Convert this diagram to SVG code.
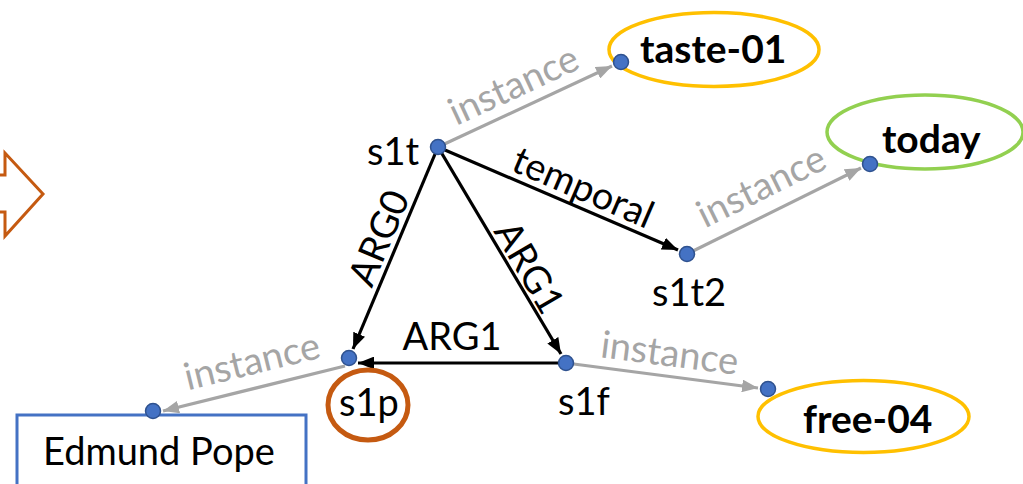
<svg xmlns="http://www.w3.org/2000/svg" width="1023" height="484" viewBox="0 0 1023 484">
  <style>
    text { font-family: Lato, "Open Sans", "Liberation Sans", sans-serif; fill: #000; }
    .lbl { font-size: 38px; }
    .concept { font-size: 39px; font-weight: bold; }
    .rel { font-size: 38px; text-anchor: middle; }
    .inst { font-size: 38px; text-anchor: middle; fill: #A5A5A5; }
    .edge { stroke: #000; stroke-width: 3.2; fill: none; marker-end: url(#arrowBlack); }
    .iedge { stroke: #A5A5A5; stroke-width: 3.2; fill: none; marker-end: url(#arrowGray); }
    .dot { fill: #4472C4; stroke: #2F528F; stroke-width: 1.5; }
  </style>
  <defs>
    <marker id="arrowBlack" viewBox="0 0 10 8" refX="10" refY="4" markerWidth="5" markerHeight="4" orient="auto" markerUnits="strokeWidth">
      <path d="M0,0 L10,4 L0,8 Z" fill="#000"/>
    </marker>
    <marker id="arrowGray" viewBox="0 0 10 8" refX="10" refY="4" markerWidth="5" markerHeight="4" orient="auto" markerUnits="strokeWidth">
      <path d="M0,0 L10,4 L0,8 Z" fill="#A5A5A5"/>
    </marker>
  </defs>

  <rect width="1023" height="484" fill="#fff"/>

  <!-- block arrow at the left margin -->
  <polygon points="-10,175 5,175 5,153 43,194 5,236 5,212 -10,212" fill="#fff" stroke="#C55A11" stroke-width="3" stroke-linejoin="miter"/>

  <!-- concept shapes -->
  <g id="taste-01">
    <ellipse cx="714" cy="49.5" rx="105" ry="37" fill="none" stroke="#FFC000" stroke-width="3.5"/>
    <text class="concept" x="640" y="63">taste-01</text>
  </g>
  <g id="today">
    <ellipse cx="925" cy="132" rx="98" ry="37" fill="none" stroke="#92D050" stroke-width="3.5"/>
    <text class="concept" x="882" y="153">today</text>
  </g>
  <g id="free-04">
    <ellipse cx="863.5" cy="416.5" rx="105.5" ry="36" fill="none" stroke="#FFC000" stroke-width="3.5"/>
    <text class="concept" x="803" y="433">free-04</text>
  </g>
  <g id="edmund-pope">
    <rect x="17" y="415" width="289" height="90" fill="none" stroke="#4472C4" stroke-width="3"/>
    <text class="lbl" x="43" y="465">Edmund Pope</text>
  </g>

  <!-- relations -->
  <g id="connectors">
    <line class="iedge" x1="438" y1="147" x2="612" y2="66"/>
    <line class="iedge" x1="687" y1="254" x2="861" y2="168"/>
    <line class="iedge" x1="566" y1="363" x2="758" y2="388"/>
    <line class="iedge" x1="345" y1="366" x2="163" y2="411"/>
    <line class="edge" x1="438" y1="147" x2="678" y2="250"/>
    <line class="edge" x1="438" y1="147" x2="353" y2="349"/>
    <line class="edge" x1="438" y1="147" x2="561" y2="354"/>
    <line class="edge" x1="566" y1="363" x2="358" y2="363"/>

    <text class="inst" transform="translate(519,97) rotate(-24.9)">instance</text>
    <text class="inst" transform="translate(767,198) rotate(-26.2)">instance</text>
    <text class="inst" transform="translate(668,366) rotate(7.3)">instance</text>
    <text class="inst" transform="translate(255,374) rotate(-13.7)">instance</text>
    <text class="rel" transform="translate(578,199.5) rotate(23.3)">temporal</text>
    <text class="rel" transform="translate(391,243) rotate(-67.1)">ARG0</text>
    <text class="rel" transform="translate(518,274) rotate(59.7)">ARG1</text>
    <text class="rel" x="452" y="350">ARG1</text>
  </g>

  <!-- variable nodes -->
  <g id="s1t">
    <circle class="dot" cx="438" cy="147" r="7.5"/>
    <text class="lbl" x="367" y="165">s1t</text>
  </g>
  <g id="s1t2">
    <circle class="dot" cx="687" cy="254" r="7.5"/>
    <text class="lbl" x="652" y="306">s1t2</text>
  </g>
  <g id="s1p">
    <circle class="dot" cx="349" cy="358" r="7.5"/>
    <ellipse cx="368" cy="405" rx="40" ry="35" fill="none" stroke="#C55A11" stroke-width="5"/>
    <text class="lbl" x="369" y="416" text-anchor="middle">s1p</text>
  </g>
  <g id="s1f">
    <circle class="dot" cx="566" cy="363" r="7.5"/>
    <text class="lbl" x="558" y="415">s1f</text>
  </g>
  <g id="taste-01-dot"><circle class="dot" cx="621" cy="62" r="7.5"/></g>
  <g id="today-dot"><circle class="dot" cx="870" cy="164" r="7.5"/></g>
  <g id="free-04-dot"><circle class="dot" cx="768" cy="389" r="7.5"/></g>
  <g id="edmund-pope-dot"><circle class="dot" cx="153" cy="411" r="7.5"/></g>
</svg>
